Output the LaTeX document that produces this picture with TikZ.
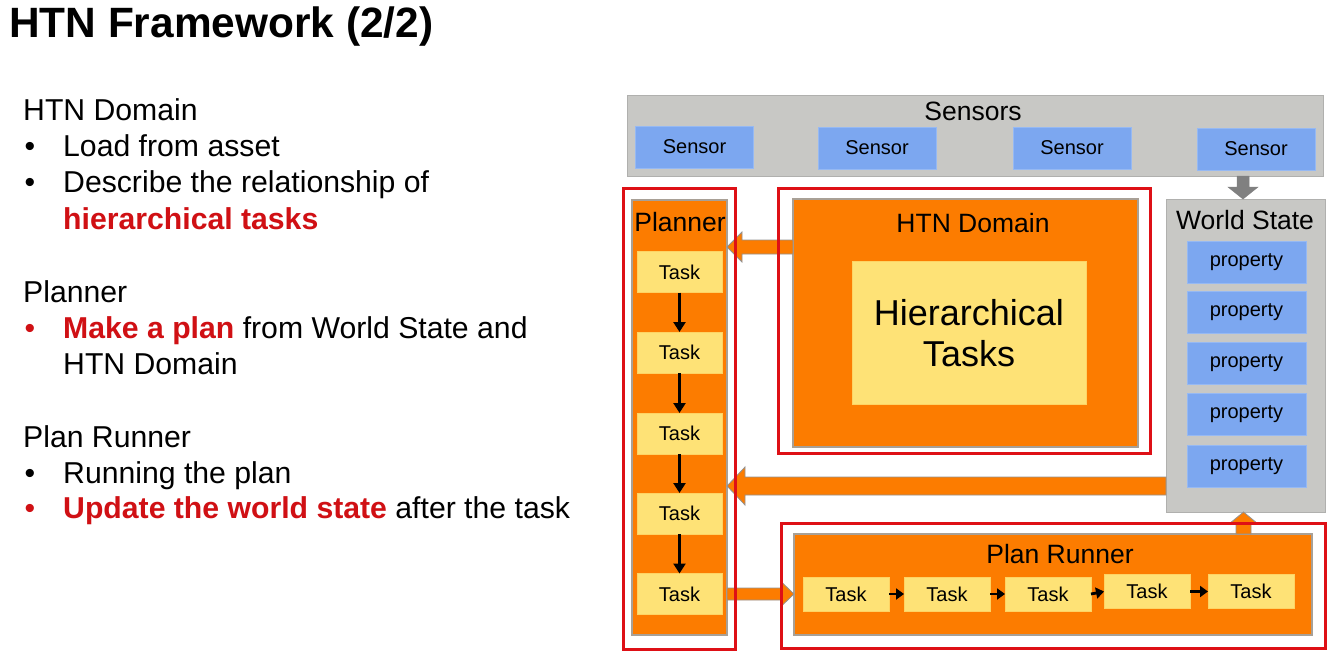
\documentclass[tikz,border=0pt]{standalone}
\usepackage{fontspec}
\setmainfont{Liberation Sans}
\usetikzlibrary{calc,arrows.meta}

\definecolor{boxorange}{RGB}{252,124,0}
\definecolor{boxline}{RGB}{168,160,150}
\definecolor{taskyellow}{RGB}{254,226,118}
\definecolor{framered}{RGB}{222,16,22}
\definecolor{panelgray}{RGB}{200,200,197}
\definecolor{panelline}{RGB}{176,176,174}
\definecolor{sensorblue}{RGB}{124,167,240}
\definecolor{arrowgray}{RGB}{128,128,128}
\definecolor{textred}{RGB}{208,16,20}

\newcommand\fs[1]{\fontsize{#1}{#1}\selectfont}

% horizontal block arrow: style, tail, tip, head offset (from tip), shaft half, head half
\newcommand\harrow[6]{%
  \draw[#1] ($(#2)+(0,-#5)$) -- ($(#3)+(#4,-#5)$) -- ($(#3)+(#4,-#6)$) -- (#3)
    -- ($(#3)+(#4,#6)$) -- ($(#3)+(#4,#5)$) -- ($(#2)+(0,#5)$) -- cycle;}
% vertical block arrow: style, tail, tip, head offset (from tip), shaft half, head half
\newcommand\varrow[6]{%
  \draw[#1] ($(#2)+(-#5,0)$) -- ($(#3)+(-#5,#4)$) -- ($(#3)+(-#6,#4)$) -- (#3)
    -- ($(#3)+(#6,#4)$) -- ($(#3)+(#5,#4)$) -- ($(#2)+(#5,0)$) -- cycle;}

\begin{document}
\begin{tikzpicture}[x=1pt,y=-1pt,
  box/.style={rectangle,inner sep=0pt,outer sep=0pt},
  panel/.style={box,fill=panelgray,draw=panelline,line width=1pt},
  orangebox/.style={box,fill=boxorange,draw=boxline,line width=1.2pt},
  redframe/.style={box,draw=framered,line width=3pt},
  bluebox/.style={box,fill=sensorblue,draw=sensorblue!80!white,line width=0.8pt,font=\fs{20}},
  sensorbox/.style={bluebox,minimum width=118pt,minimum height=42pt},
  propbox/.style={bluebox,minimum width=119pt,minimum height=42pt},
  taskbox/.style={box,fill=taskyellow,draw=taskyellow!85!boxorange,line width=0.6pt,font=\fs{20}},
  ptask/.style={taskbox,minimum width=85pt,minimum height=41pt},
  rtask/.style={taskbox,minimum width=86pt,minimum height=34pt},
  label/.style={inner sep=0pt,font=\fs{26.5}},
  seqarrow/.style={line width=2.4pt,-{Triangle[length=10pt,width=12pt]}},
  runarrow/.style={line width=2.8pt,-{Triangle[length=8pt,width=11pt]}},
  blockorange/.style={fill=boxorange,draw=arrowgray!85,line width=0.8pt},
  blockgray/.style={fill=arrowgray,draw=arrowgray,line width=0.5pt},
  bodytext/.style={inner sep=0pt,anchor=base west,font=\fs{30.2}},
  bullet/.style={inner sep=0pt,anchor=base,font=\fs{30.2}}
]
\useasboundingbox (0,0) rectangle (1336,658);
\fill[white] (0,0) rectangle (1336,658);

% ---------- title and notes ----------
\node[inner sep=0pt,anchor=base west,font=\fs{42.4}\bfseries] (title) at (9,38) {HTN Framework (2/2)};

\node[bodytext] (t1) at (23,121) {HTN Domain};
\node[bullet] (b1) at (30,157) {•};
\node[bodytext] (t2) at (63,157) {Load from asset};
\node[bullet] (b2) at (30,193) {•};
\node[bodytext] (t3) at (63,193) {Describe the relationship of};
\node[bodytext,text=textred,font=\fs{30.2}\bfseries] (t4) at (63,229) {hierarchical tasks};

\node[bodytext] (t5) at (23,302) {Planner};
\node[bullet,text=textred] (b3) at (30,338) {•};
\node[bodytext] (t6) at (63,338) {{\bfseries\color{textred}Make a plan} from World State and};
\node[bodytext] (t7) at (63,374) {HTN Domain};

\node[bodytext] (t8) at (23,447) {Plan Runner};
\node[bullet] (b4) at (30,483) {•};
\node[bodytext] (t9) at (63,483) {Running the plan};
\node[bullet,text=textred] (b5) at (30,518) {•};
\node[bodytext] (t10) at (63,518) {{\bfseries\color{textred}Update the world state} after the task};

% ---------- sensors ----------
\node[panel,minimum width=696pt,minimum height=80pt] (sensors) at (975,136) {};
\node[label] (sensorslbl) at (973,111) {Sensors};
\node[sensorbox] (s1) at (694.5,147) {Sensor};
\node[sensorbox] (s2) at (877,148) {Sensor};
\node[sensorbox] (s3) at (1072,148) {Sensor};
\node[sensorbox] (s4) at (1256,149) {Sensor};

% ---------- world state ----------
\node[panel,minimum width=159pt,minimum height=313pt] (world) at (1245.5,355.5) {};
\node[label] (worldlbl) at (1245,220) {World State};
\node[propbox] (p1) at (1246.5,262.5) {property};
\node[propbox] (p2) at (1246.5,312) {property};
\node[propbox] (p3) at (1246.5,363) {property};
\node[propbox] (p4) at (1246.5,414.5) {property};
\node[propbox] (p5) at (1246.5,466) {property};

% ---------- planner ----------
\node[orangebox,minimum width=95pt,minimum height=435pt] (planner) at (679.5,417.5) {};
\node[label] (plannerlbl) at (680,222) {Planner};
\node[ptask] (q1) at (679.5,272) {Task};
\node[ptask] (q2) at (679.5,352.5) {Task};
\node[ptask] (q3) at (679.5,433.5) {Task};
\node[ptask] (q4) at (679.5,513.5) {Task};
\node[ptask] (q5) at (679.5,594) {Task};
\foreach \a/\b in {q1/q2,q2/q3,q3/q4,q4/q5}
  \draw[seqarrow] (\a.south) -- (\b.north);

% ---------- HTN domain ----------
\node[orangebox,minimum width=345pt,minimum height=248pt] (domain) at (965.5,323) {};
\node[label] (domainlbl) at (973,223) {HTN Domain};
\node[box,fill=taskyellow,draw=taskyellow!85!boxorange,line width=0.6pt,
      minimum width=234pt,minimum height=143pt] (hier) at (969,332.5) {};
\node[inner sep=0pt,align=center,font=\fontsize{36}{41}\selectfont] (hierlbl) at (969,333.5) {Hierarchical\\Tasks};

% ---------- plan runner ----------
\node[orangebox,minimum width=518pt,minimum height=101pt] (runner) at (1053,584.5) {};
\node[label] (runnerlbl) at (1060,554) {Plan Runner};
\node[rtask] (r1) at (846,594) {Task};
\node[rtask] (r2) at (947,594) {Task};
\node[rtask] (r3) at (1048,594) {Task};
\node[rtask] (r4) at (1147,591.5) {Task};
\node[rtask] (r5) at (1251,591.5) {Task};
\foreach \a/\b in {r1/r2,r2/r3,r3/r4,r4/r5}
  \draw[runarrow] (\a.east) -- (\b.west);

% ---------- block arrows ----------
\coordinate (a1tail) at (domain.west |- 0,247);
\coordinate (a1tip) at (planner.east |- 0,247);
\harrow{blockorange}{a1tail}{a1tip}{15}{7}{15}

\coordinate (a2tail) at (world.west |- 0,486);
\coordinate (a2tip) at (planner.east |- 0,486);
\harrow{blockorange}{a2tail}{a2tip}{18}{9}{19}

\coordinate (a3tail) at (planner.east |- q5.east);
\coordinate (a3tip) at (runner.west |- q5.east);
\harrow{blockorange}{a3tail}{a3tip}{-12}{6}{11.5}

\path (sensors.south -| 1243,0) coordinate (a4tail);
\path (world.north -| 1243,0) coordinate (a4tip);
\varrow{blockgray}{a4tail}{a4tip}{-12}{6}{15}

\path (runner.north -| 1243.5,0) coordinate (a5tail);
\path (world.south -| 1243.5,0) coordinate (a5tip);
\varrow{blockorange}{a5tail}{a5tip}{12}{7.5}{14.5}

% ---------- highlight frames ----------
\node[redframe,minimum width=112pt,minimum height=461pt] (plannerframe) at (679,418.5) {};
\node[redframe,minimum width=372pt,minimum height=265pt] (domainframe) at (964.5,320.5) {};
\node[redframe,minimum width=544pt,minimum height=125pt] (runnerframe) at (1053,585.5) {};
\end{tikzpicture}
\end{document}
